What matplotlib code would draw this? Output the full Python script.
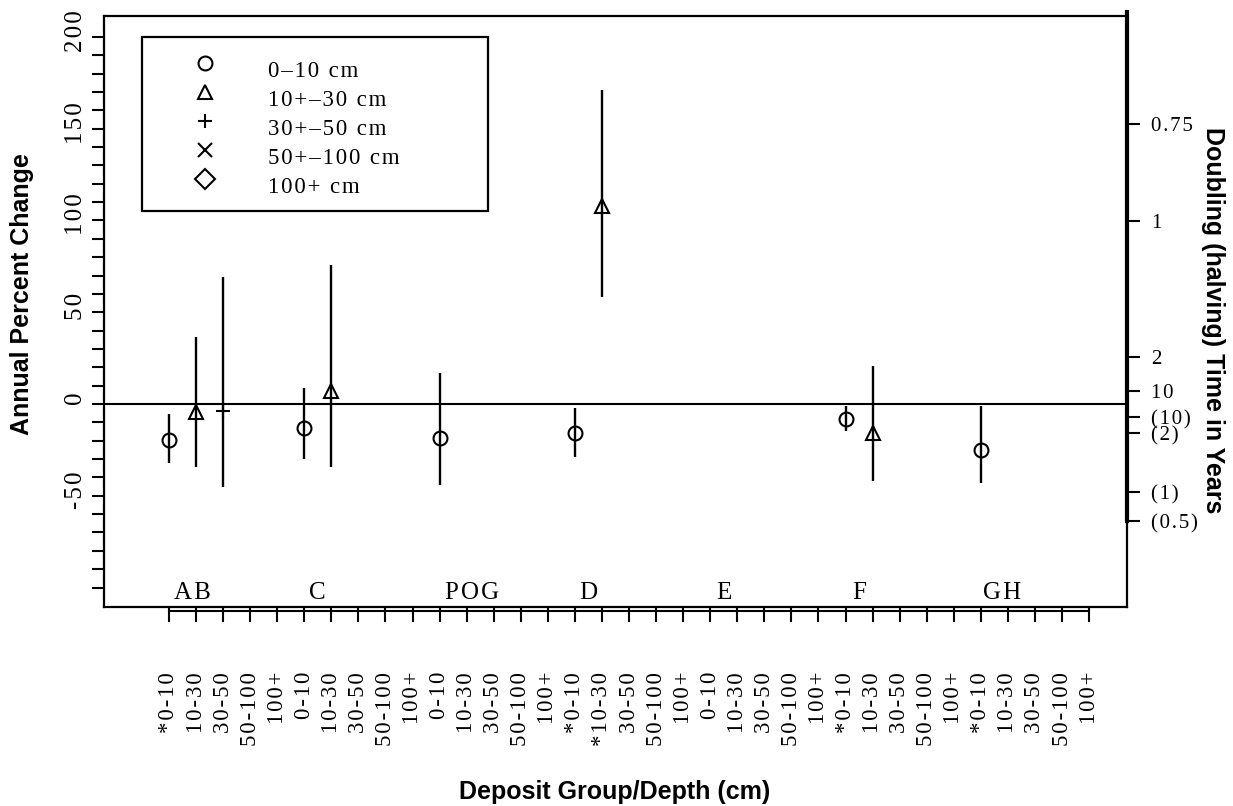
import numpy as np
import matplotlib
matplotlib.use("Agg")
import matplotlib.pyplot as plt  # noqa: E402
from matplotlib import transforms  # noqa: E402
from matplotlib.lines import Line2D  # noqa: E402
from matplotlib.patches import Rectangle  # noqa: E402

nan = np.nan

groups = ["AB", "C", "POG", "D", "E", "F", "GH"]
depths = ["0-10", "10-30", "30-50", "50-100", "100+"]
# depth slots marked with an asterisk on the axis: (group, depth index)
starred = [("AB", 0), ("D", 0), ("D", 1), ("F", 0), ("GH", 0)]
group_label_x = [1.85, 6.5, 12.2, 16.5, 21.5, 26.5, 31.8]

# annual percent change, one value per group (nan = no estimate)
est_0_10 = [-19.6, -13.3, -18.7, -15.8, nan, -8.4, -25.1]
lo_0_10 = [-32.3, -30.2, -44.1, -28.9, nan, -14.5, -43.2]
hi_0_10 = [-5.6, 8.5, 17.1, -2.2, nan, -0.9, -0.9]

est_10_30 = [-4.5, 7.3, nan, 107.9, nan, -15.6, nan]
lo_10_30 = [-34.5, -34.5, nan, 58.3, nan, -42.0, nan]
hi_10_30 = [36.7, 75.7, nan, 171.1, nan, 20.7, nan]

est_30_50 = [-3.8, nan, nan, nan, nan, nan, nan]
lo_30_50 = [-45.4, nan, nan, nan, nan, nan, nan]
hi_30_50 = [69.4, nan, nan, nan, nan, nan, nan]

est_50_100 = [nan] * 7
lo_50_100 = [nan] * 7
hi_50_100 = [nan] * 7

est_100 = [nan] * 7
lo_100 = [nan] * 7
hi_100 = [nan] * 7

legend_labels = ["0\u201310 cm", "10+\u201330 cm", "30+\u201350 cm", "50+\u2013100 cm", "100+ cm"]
markers = ["o", "^", "+", "x", "D"]

# right axis: doubling (halving) time, placed on the percent-change scale
right_tick_pos = [152.6, 99.7, 25.6, 7.1, -7.1, -15.8, -48.0, -63.8]
right_tick_labels = ["0.75", "1", "2", "10", "(10)", "(2)", "(1)", "(0.5)"]

left_ticks = list(range(-100, 201, 10))
left_labeled = [-50, 0, 50, 100, 150, 200]

SERIF = ["Liberation Serif", "DejaVu Serif"]
SANS = ["Liberation Sans", "DejaVu Sans"]


def spaced(s, sp="\u200a"):
    return sp.join(s)


series = [
    (est_0_10, lo_0_10, hi_0_10),
    (est_10_30, lo_10_30, hi_10_30),
    (est_30_50, lo_30_50, hi_30_50),
    (est_50_100, lo_50_100, hi_50_100),
    (est_100, lo_100, hi_100),
]

fig = plt.figure(figsize=(12.33, 8.06), dpi=100)
ax = fig.add_axes([104 / 1233, 1 - 607 / 806, 1023 / 1233, 591 / 806])
n = len(groups) * len(depths)
ax.set_xlim(-0.04 * n, n + 0.04 * n)
ax.set_ylim(-110.6, 211.4)

for d, (est, lo, hi) in enumerate(series):
    x = np.arange(len(groups)) * len(depths) + d + 1
    est, lo, hi = map(np.asarray, (est, lo, hi))
    ok = ~np.isnan(est)
    ax.vlines(x[ok], lo[ok], hi[ok], color="black", lw=1.7)
    ax.plot(x[ok], est[ok], ls="none", marker=markers[d], ms=10, mew=1.5,
            mfc="none", mec="black", zorder=3)

ax.axhline(0, color="black", lw=1.5)

for s in ax.spines.values():
    s.set_linewidth(1.6)

# x axis: depth slots
xlabels = []
for g in groups:
    for k, dl in enumerate(depths):
        lab = ("*" if (g, k) in starred else "") + dl
        xlabels.append(spaced(lab))
ax.set_xticks(np.arange(1, n + 1))
ax.set_xticklabels(xlabels, rotation=90, family=SERIF, fontsize=16.5)
ax.tick_params(axis="x", direction="out", length=10.8, width=1.5, pad=36)
off = transforms.ScaledTranslation(0, -4 / 100, fig.dpi_scale_trans)
ax.plot([1, n], [0, 0], color="black", lw=1.5, clip_on=False,
        transform=ax.get_xaxis_transform() + off)

for gx, g in zip(group_label_x, groups):
    ax.text(gx, -103, spaced(g), ha="center", va="center", family=SERIF, fontsize=18)

# left axis
ax.set_yticks(left_ticks)
ax.set_yticklabels([spaced(str(t)) if t in left_labeled else "" for t in left_ticks],
                   rotation=90, va="center", family=SERIF, fontsize=18)
ax.tick_params(axis="y", direction="out", length=8.6, width=1.5, pad=4)
up = transforms.ScaledTranslation(0, 6 / 100, fig.dpi_scale_trans)
for lbl in ax.get_yticklabels():
    lbl.set_transform(lbl.get_transform() + up)

# right axis
ax2 = ax.twinx()
ax2.set_ylim(ax.get_ylim())
ax2.set_yticks(right_tick_pos)
ax2.set_yticklabels([spaced(t) for t in right_tick_labels], family=SERIF, fontsize=15)
ax2.tick_params(axis="y", direction="out", length=9.4, width=1.5, pad=8)
for s in ax2.spines.values():
    s.set_visible(False)
ax2.plot([1, 1], [right_tick_pos[-1], 211.4 + 2], color="black", lw=3,
         clip_on=False, transform=transforms.blended_transform_factory(ax2.transAxes, ax2.transData))

# legend drawn as a framed box
ax.add_patch(Rectangle((0.0371, 0.670), 0.3383, 0.2945, transform=ax.transAxes,
                       fill=False, ec="black", lw=1.6, zorder=4))
row_px = [63, 92, 121, 150, 179]
for i, (m, lab) in enumerate(zip(markers, legend_labels)):
    yf = 1 - (row_px[i] - 16) / 591
    ax.add_line(Line2D([0.0987], [yf], transform=ax.transAxes, ls="none", marker=m,
                       ms=10, mew=1.5, mfc="none", mec="black"))
    ax.text(0.1603, yf - 14 / 591, spaced(lab), transform=ax.transAxes, ha="left",
            va="baseline", family=SERIF, fontsize=16.5)

fig.text(22 / 1233, 1 - 294 / 806, "Annual Percent Change", rotation=90, ha="center",
         va="center", family=SANS, fontweight="bold", fontsize=18)
fig.text(1213 / 1233, 1 - 320 / 806, "Doubling (halving) Time in Years", rotation=270,
         ha="center", va="center", family=SANS, fontweight="bold", fontsize=18)
fig.text(614.5 / 1233, 1 - 792 / 806, "Deposit Group/Depth (cm)", ha="center",
         va="center", family=SANS, fontweight="bold", fontsize=18)

fig.savefig("out.png", dpi=100)
